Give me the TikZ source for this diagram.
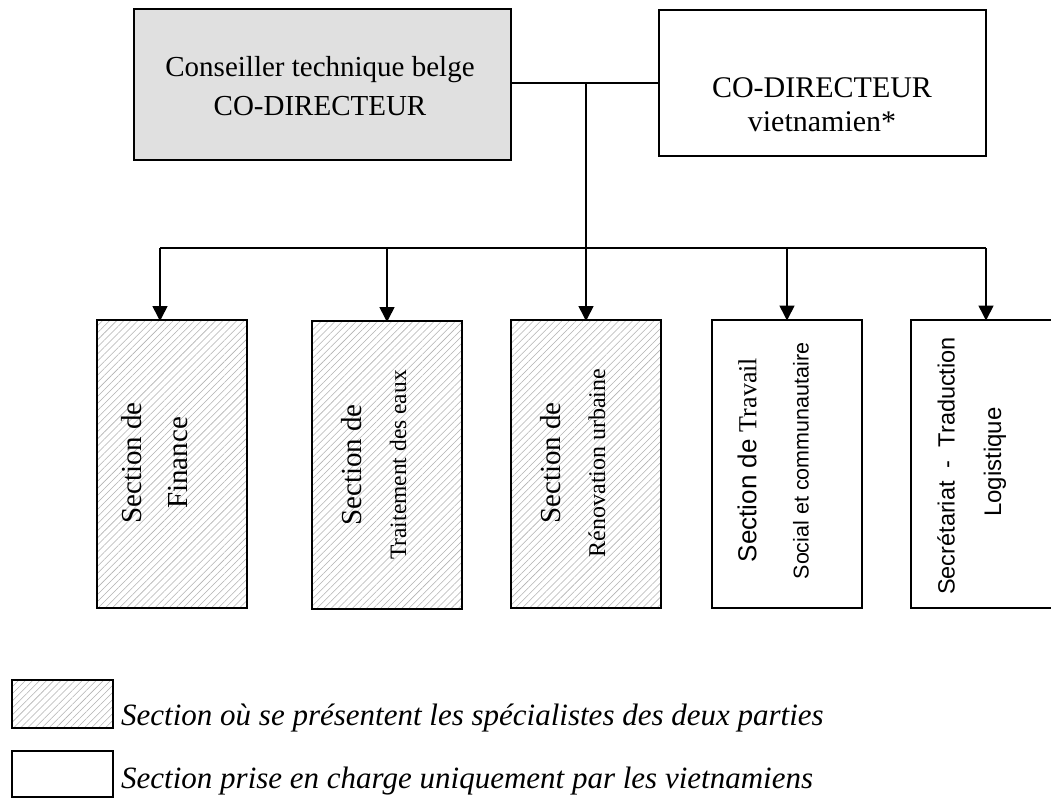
\documentclass[tikz,border=0pt]{standalone}
\usepackage{fontspec}
\setmainfont{Liberation Serif}
\newfontfamily\arialf{Liberation Sans}
\usetikzlibrary{patterns.meta,arrows.meta,positioning}
\tikzset{
  topbox/.style={draw=black,line width=2pt,inner sep=0pt,outer sep=0pt},
  secbox/.style={draw=black,line width=2pt,inner sep=0pt,outer sep=0pt,minimum width=150pt,minimum height=288pt},
  hatched/.style={pattern={Lines[angle=45,distance=5pt,line width=0.55pt]},pattern color=black!30},
  conn/.style={line width=1.6pt},
  arr/.style={line width=1.6pt,-{Triangle[length=15pt,width=15pt]},shorten >=-1pt},
  vtext/.style={rotate=90,inner sep=0pt,anchor=center},
  legtext/.style={anchor=base west,inner sep=0pt,font=\fontsize{31}{35}\selectfont\itshape},
}
\begin{document}
\begin{tikzpicture}[x=1pt,y=-1pt]
\useasboundingbox (0,0) rectangle (1051,798);
\clip (0,0) rectangle (1051,798);
% top boxes
\node[topbox,fill=black!12,minimum width=377pt,minimum height=151pt] (top1) at (322.5,84.5) {};
\node[topbox,fill=white,minimum width=327pt,minimum height=146pt] (top2) at (822.5,83) {};
\node[anchor=base,inner sep=0pt,font=\fontsize{29}{34}\selectfont] (t1a) at (320,76) {Conseiller technique belge};
\node[anchor=base,inner sep=0pt,font=\fontsize{29}{34}\selectfont] (t1b) at (320,115) {CO-DIRECTEUR};
\node[anchor=base,inner sep=0pt,font=\fontsize{30}{34}\selectfont] (t2a) at (822,97) {CO-DIRECTEUR};
\node[anchor=base,inner sep=0pt,font=\fontsize{30}{34}\selectfont] (t2b) at (822,131) {vietnamien*};
% section boxes
\node[secbox,fill=white] (fin0) at (172,464) {};
\node[secbox,hatched] (fin) at (172,464) {};
\node[secbox,fill=white] (tra0) at (387,465) {};
\node[secbox,hatched] (tra) at (387,465) {};
\node[secbox,fill=white] (ren0) at (586,464) {};
\node[secbox,hatched] (ren) at (586,464) {};
\node[secbox,fill=white] (trv) at (787,463.5) {};
\node[secbox,fill=white] (sec) at (986,463.5) {};
% texts in sections
\node[vtext,font=\fontsize{29}{34}\selectfont] (fina) at (132,463) {Section de};
\node[vtext,font=\fontsize{29}{34}\selectfont] (finb) at (178,463) {Finance};
\node[vtext,font=\fontsize{29}{34}\selectfont] (traa) at (352,465) {Section de};
\node[vtext,font=\fontsize{23.5}{28}\selectfont] (trab) at (398,465) {Traitement des eaux};
\node[vtext,font=\fontsize{29}{34}\selectfont] (rena) at (551,463) {Section de};
\node[vtext,font=\fontsize{24}{28}\selectfont] (renb) at (597,463) {Rénovation urbaine};
\node[vtext] (trva) at (747,460) {{\arialf\fontsize{26}{30}\selectfont Section de }{\fontsize{26}{30}\selectfont Travail}};
\node[vtext,font=\arialf\fontsize{21.5}{26}\selectfont] (trvb) at (801,461) {Social et communautaire};
\node[vtext,font=\arialf\fontsize{23.5}{28}\selectfont] (seca) at (946,466) {Secrétariat\ \ -\ \ Traduction};
\node[vtext,font=\arialf\fontsize{24}{28}\selectfont] (secb) at (995,462) {Logistique};
% connectors
\coordinate (j) at (586,83);
\coordinate (b1) at (160,248);
\coordinate (b5) at (986,248);
\draw[conn] (j -| top1.east) -- (j -| top2.west);
\draw[conn] (b1) -- (b5);
\draw[arr] (j) -- (ren.north);
\draw[arr] (b1) -- (b1 |- fin.north);
\draw[arr] (tra.north |- b1) -- (tra.north);
\draw[arr] (trv.north |- b1) -- (trv.north);
\draw[arr] (b5) -- (sec.north);
% legend
\node[secbox,fill=white,minimum width=101pt,minimum height=48pt] (l10) at (62.5,704) {};
\node[secbox,hatched,minimum width=101pt,minimum height=48pt] (l1) at (62.5,704) {};
\node[secbox,fill=white,minimum width=101pt,minimum height=46pt] (l2) at (62.5,774) {};
\node[legtext] (lt1) at (121,725) {Section où se présentent les spécialistes des deux parties};
\node[legtext] (lt2) at (121,788) {Section prise en charge uniquement par les vietnamiens};
\end{tikzpicture}
\end{document}
